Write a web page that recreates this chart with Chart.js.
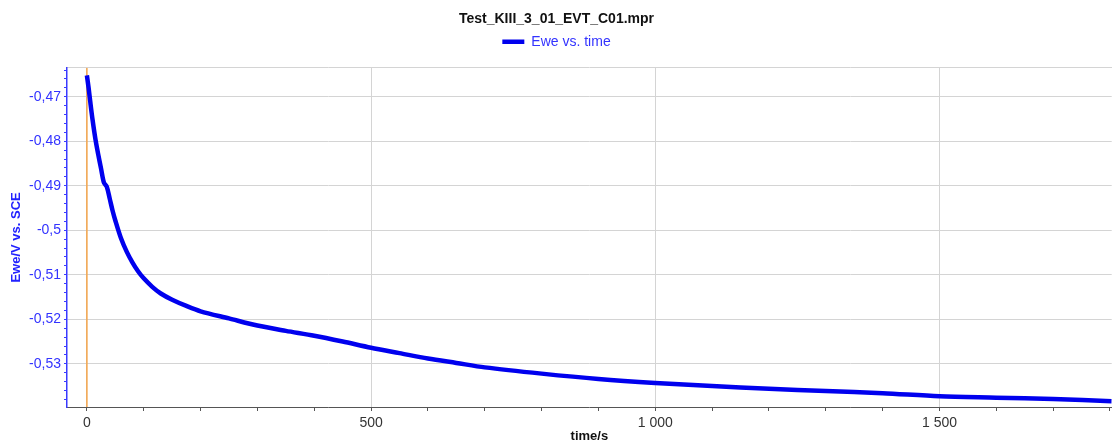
<!DOCTYPE html>
<html>
<head>
<meta charset="utf-8">
<script src="https://cdn.jsdelivr.net/npm/chart.js@4/dist/chart.umd.min.js"></script>
<style>
  html, body { margin: 0; padding: 0; background: #fff; }
  #wrap { width: 1114px; height: 444px; }
</style>
</head>
<body>
<div id="wrap"><canvas id="chart"></canvas></div>
<script>
const chartTitle = 'Test_KIII_3_01_EVT_C01.mpr';
const seriesLabel = 'Ewe vs. time';

// time in s, Ewe in V vs. SCE
const timeS = [0, 3, 6, 10, 15, 20, 25, 30, 35, 40, 45, 50, 60, 70, 80, 90, 100, 115, 130, 150, 175, 200, 250, 300, 350, 400, 450, 500, 550, 600, 650, 700, 800, 900, 1000, 1100, 1200, 1300, 1400, 1500, 1600, 1700, 1803];
const ewe = [-0.4652, -0.4680, -0.4712, -0.4752, -0.4795, -0.4830, -0.4862, -0.4893, -0.4902, -0.4928, -0.4955, -0.4978, -0.5018, -0.5048, -0.5072, -0.5092, -0.5108, -0.5127, -0.5142, -0.5156, -0.5170, -0.5182, -0.5198, -0.5214, -0.5226, -0.5237, -0.5250, -0.5264, -0.5276, -0.5288, -0.5298, -0.5308, -0.5322, -0.5334, -0.5343, -0.5350, -0.5356, -0.5361, -0.5366, -0.5373, -0.5376, -0.5379, -0.5384];

const xMin = -35, xMax = 1803;
const yMin = -0.5397, yMax = -0.4635;

const isMult = (v, step) => Math.abs(v / step - Math.round(v / step)) < 1e-6;
const font = (size, weight) => ({ family: 'Liberation Sans', size: size, weight: weight || 'normal' });

new Chart(document.getElementById('chart'), {
  type: 'line',
  data: {
    datasets: [
      {
        label: seriesLabel,
        data: timeS.map((t, i) => ({ x: t, y: ewe[i] })),
        borderColor: '#0000ee',
        backgroundColor: '#0000ee',
        borderWidth: 4.5,
        pointRadius: 0,
        tension: 0.3,
        order: 1
      },
      {
        label: 'zero',
        data: [{ x: 0, y: yMin }, { x: 0, y: yMax }],
        borderColor: '#f5a54a',
        borderWidth: 1.5,
        pointRadius: 0,
        order: 2
      }
    ]
  },
  options: {
    responsive: true,
    maintainAspectRatio: false,
    animation: false,
    layout: { padding: { left: 0, right: 1, top: 0, bottom: 0 } },
    plugins: {
      title: {
        display: true,
        text: chartTitle,
        color: '#111',
        font: font(14, 'bold'),
        padding: { top: 11, bottom: 1 }
      },
      legend: {
        labels: {
          filter: item => item.text === seriesLabel,
          color: '#3333ff',
          font: font(14),
          usePointStyle: true,
          pointStyle: 'line',
          pointStyleWidth: 22,
          padding: 6
        }
      },
      tooltip: { enabled: false }
    },
    scales: {
      x: {
        type: 'linear',
        min: xMin,
        max: xMax,
        afterFit: s => { s.height = 37; },
        border: { color: '#555', width: 1 },
        grid: {
          color: c => (c.tick && isMult(c.tick.value, 500)) ? '#d4d4d4' : 'rgba(0,0,0,0)',
          tickColor: '#555',
          tickLength: 4
        },
        ticks: {
          stepSize: 100,
          includeBounds: false,
          autoSkip: false,
          maxRotation: 0,
          color: '#333',
          font: font(14),
          padding: 4,
          callback: v => isMult(v, 500) ? String(v).replace(/\B(?=(\d{3})+(?!\d))/g, ' ') : ''
        },
        title: {
          display: true,
          text: 'time/s',
          color: '#111',
          font: font(13, 'bold'),
          padding: { top: 0, bottom: 0 }
        }
      },
      x2: {
        type: 'linear',
        position: 'top',
        min: xMin,
        max: xMax,
        afterFit: s => { s.height = 9; },
        border: { display: true, color: '#d4d4d4', width: 1 },
        grid: { display: false },
        ticks: { display: false }
      },
      y: {
        type: 'linear',
        min: yMin,
        max: yMax,
        afterFit: s => { s.width = 67; },
        border: { color: '#3a3aff', width: 1.5 },
        grid: {
          color: c => (c.tick && isMult(c.tick.value, 0.01)) ? '#d4d4d4' : 'rgba(0,0,0,0)',
          tickColor: '#3a3aff',
          tickLength: 3
        },
        ticks: {
          stepSize: 0.002,
          includeBounds: false,
          autoSkip: false,
          color: '#3333ff',
          font: font(14),
          padding: 3,
          callback: v => isMult(v, 0.01) ? String(Math.round(v * 100) / 100).replace('.', ',') : ''
        },
        title: {
          display: true,
          text: 'Ewe/V vs. SCE',
          color: '#2222ff',
          font: font(13, 'bold'),
          padding: { top: 9, bottom: 0 }
        }
      }
    }
  }
});
</script>
</body>
</html>
